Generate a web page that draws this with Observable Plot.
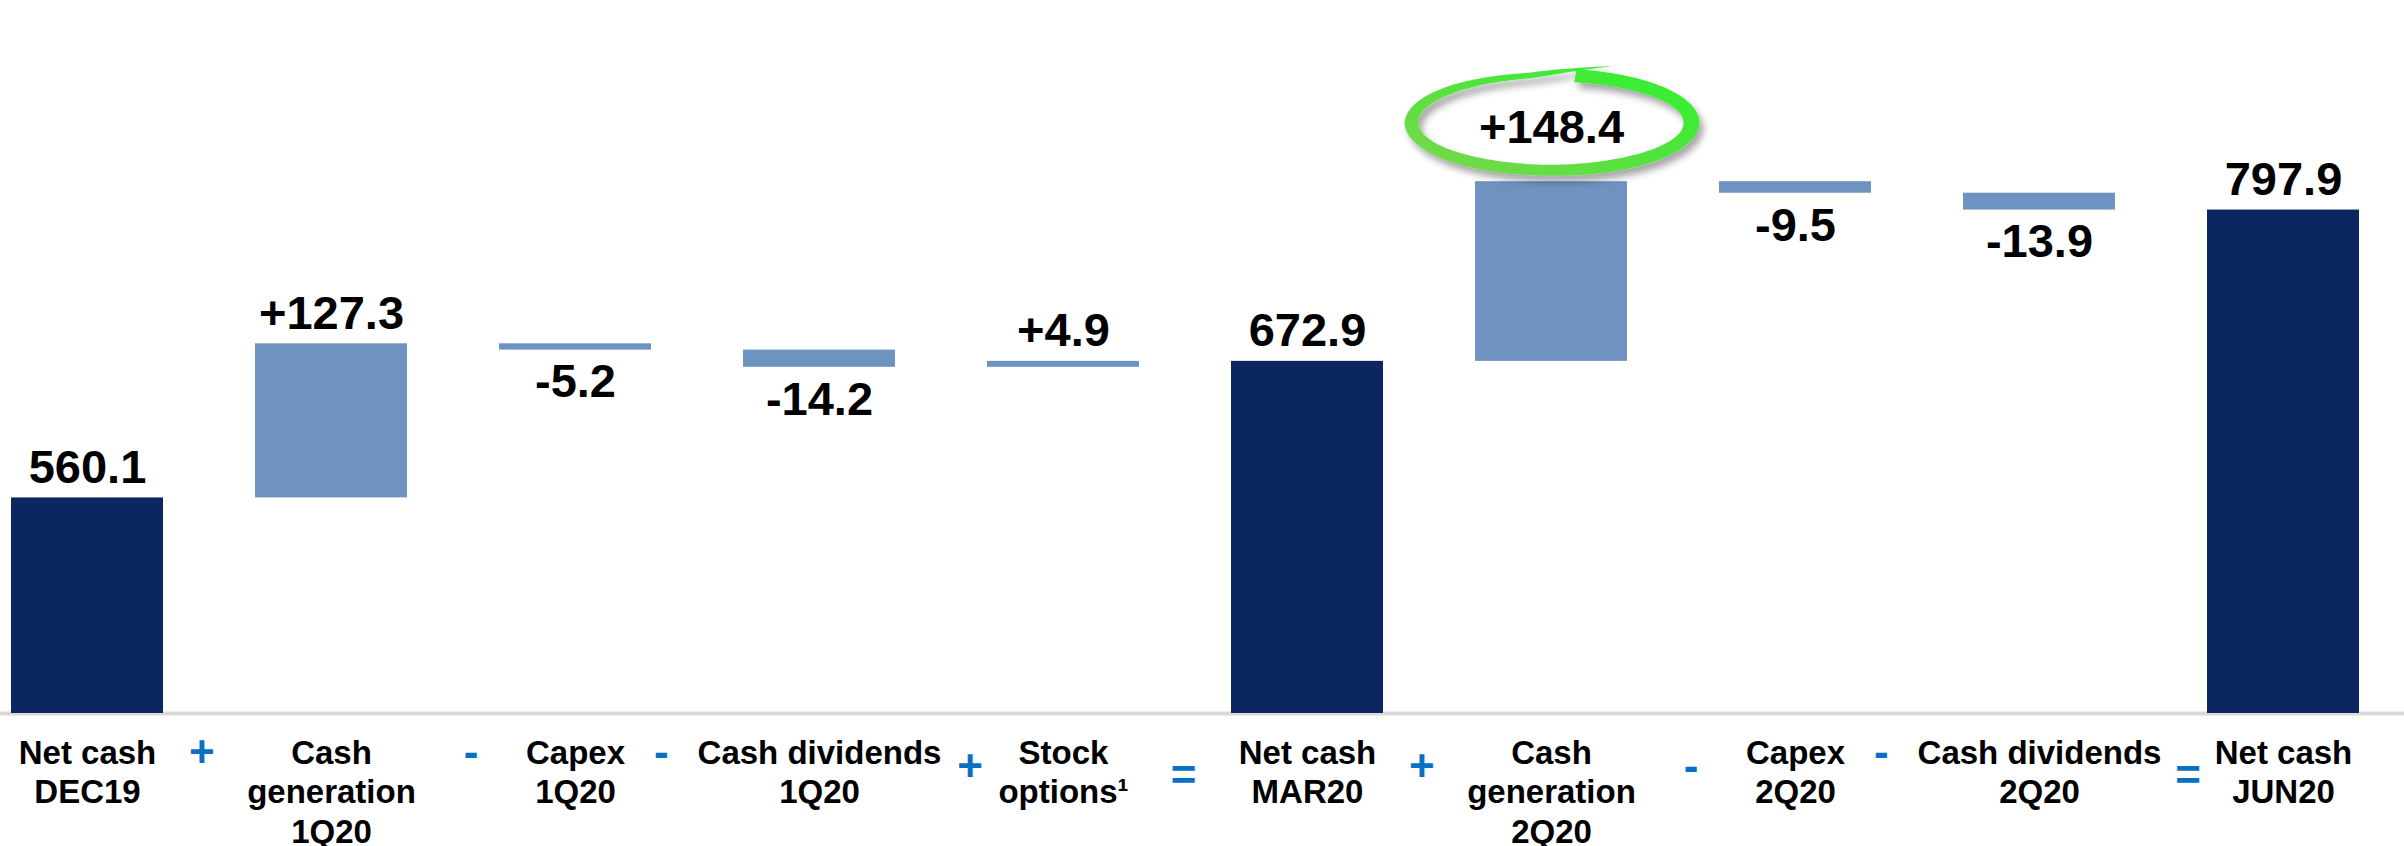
<!DOCTYPE html>
<html>
<head>
<meta charset="utf-8">
<script src="https://cdn.jsdelivr.net/npm/d3@7"></script>
<script src="https://cdn.jsdelivr.net/npm/@observablehq/plot@0.6"></script>
<style>
  html, body { margin: 0; padding: 0; background: #ffffff; }
  #chart svg { display: block; }
</style>
</head>
<body>
<div id="chart"></div>
<script>
// ---------------- data ----------------
const categories = [
  "Net cash\nDEC19",
  "Cash\ngeneration\n1Q20",
  "Capex\n1Q20",
  "Cash dividends\n1Q20",
  "Stock\noptions¹",
  "Net cash\nMAR20",
  "Cash\ngeneration\n2Q20",
  "Capex\n2Q20",
  "Cash dividends\n2Q20",
  "Net cash\nJUN20"
];
const values = [560.1, 127.3, -5.2, -14.2, 4.9, 672.9, 148.4, -9.5, -13.9, 797.9];
const kinds = ["total", "delta", "delta", "delta", "delta", "total", "delta", "delta", "delta", "total"];
const valueLabels = ["560.1", "+127.3", "-5.2", "-14.2", "+4.9", "672.9", "+148.4", "-9.5", "-13.9", "797.9"];
const operators = ["+", "-", "-", "+", "=", "+", "-", "-", "="];
const highlighted = "Cash\ngeneration\n2Q20";

// ---------------- layout ----------------
const W = 2404, H = 846;
const yDomain = [382, 971];
const padInner = 0.377, padOuter = 0.1127, bandAlign = 0.2;
const FONT = "'Liberation Sans', Arial, Helvetica, sans-serif";
const AXIS_FS = 33, VALUE_FS = 47, OP_FS = 44;
const darkBlue = "#0b2660", lightBlue = "#6e93c0", opBlue = "#0a70c4";

// same band geometry as the plot's x scale, used to set operators between label texts
const band = d3.scaleBand().domain(categories).range([0, W])
  .paddingInner(padInner).paddingOuter(padOuter).align(bandAlign);
const ctx = document.createElement("canvas").getContext("2d");
ctx.font = `bold ${AXIS_FS}px 'Liberation Sans', Arial, sans-serif`;
const labelWidth = c => d3.max(c.split("\n"), s => ctx.measureText(s).width);
const center = c => band(c) + band.bandwidth() / 2;

// waterfall table
let running = 0;
const rows = categories.map((cat, i) => {
  const v = values[i];
  let a, b;
  if (kinds[i] === "total") { a = yDomain[0]; b = v; running = v; }
  else { a = running; b = running + v; running = b; }
  return { cat, kind: kinds[i], value: v, label: valueLabels[i], lo: Math.min(a, b), hi: Math.max(a, b) };
});
const above = rows.filter(d => (d.kind === "total" || d.value > 0) && d.cat !== highlighted);
const below = rows.filter(d => d.kind === "delta" && d.value < 0);
const hl = rows.filter(d => d.cat === highlighted);

const opRowDy = i => [0, 1, 2, 7].includes(i) ? 39 : (operators[i] === "=" ? 62 : 53);
const opMarks = operators.map((op, i) => {
  const left = categories[i], right = categories[i + 1];
  const gapMid = ((center(left) + labelWidth(left) / 2) + (center(right) - labelWidth(right) / 2)) / 2;
  return Plot.text([{ op, cat: left }], {
    x: "cat", text: "op", frameAnchor: "bottom", lineAnchor: "middle",
    fontFamily: FONT, fontWeight: "bold", fontSize: OP_FS, fill: opBlue,
    dx: gapMid - center(left), dy: opRowDy(i)
  });
});

// hand-drawn style open ellipse as a custom dot symbol
const knotsT = [-1.40, 0, Math.PI / 2, Math.PI, 4.2, 4.71, 5.05];
const knotsW = [13, 16, 11, 14, 7, 5, 0.6];
function widthAt(t) {
  for (let k = 0; k < knotsT.length - 1; k++) {
    if (t <= knotsT[k + 1]) {
      const f = (t - knotsT[k]) / (knotsT[k + 1] - knotsT[k]);
      return knotsW[k] + f * (knotsW[k + 1] - knotsW[k]);
    }
  }
  return knotsW[knotsW.length - 1];
}
function scaleAt(t) {
  if (t < 4.5) return 1;
  const f = (t - 4.5) / 0.55;
  return 1 + 0.25 * Math.pow(Math.min(1, f), 1.6);
}
const swoosh = {
  draw(context, size) {
    const R = Math.sqrt(size / Math.PI);
    const rx = R, ry = R * 0.34;
    const t0 = -1.40, t1 = 5.05, N = 180;
    const outer = [], inner = [];
    for (let j = 0; j <= N; j++) {
      const t = t0 + (t1 - t0) * j / N;
      const s = scaleAt(t), w = widthAt(t) / 2;
      const c = Math.cos(t), sn = Math.sin(t);
      outer.push([c * (rx * s + w), sn * (ry * s + w)]);
      inner.push([c * (rx * s - w), sn * (ry * s - w)]);
    }
    context.moveTo(outer[0][0], outer[0][1]);
    for (let j = 1; j < outer.length; j++) context.lineTo(outer[j][0], outer[j][1]);
    for (let j = inner.length - 1; j >= 0; j--) context.lineTo(inner[j][0], inner[j][1]);
    context.closePath();
  }
};

const textBase = { fontFamily: FONT, fontWeight: "bold", fill: "#000000" };

const chart = Plot.plot({
  width: W,
  height: H,
  marginTop: 0,
  marginBottom: 133,
  marginLeft: 0,
  marginRight: 0,
  style: { fontFamily: FONT, fontWeight: "bold", background: "#ffffff", overflow: "visible" },
  x: { domain: categories, paddingInner: padInner, paddingOuter: padOuter, align: bandAlign, axis: null },
  y: { domain: yDomain, axis: null },
  marks: [
    Plot.ruleY([yDomain[0]], { stroke: "#d9d9d9", strokeWidth: 4 }),
    Plot.barY(rows, {
      x: "cat", y1: "lo", y2: "hi",
      fill: d => d.kind === "total" ? darkBlue : lightBlue
    }),
    Plot.text(above, { ...textBase, x: "cat", y: "hi", text: "label", fontSize: VALUE_FS, lineAnchor: "bottom", dy: -15 }),
    Plot.text(below, { ...textBase, x: "cat", y: "lo", text: "label", fontSize: VALUE_FS, lineAnchor: "top", dy: 14 }),
    Plot.text(hl, { ...textBase, x: "cat", y: "hi", text: "label", fontSize: VALUE_FS, lineAnchor: "bottom", dy: -39 }),
    Plot.dot(hl, { x: "cat", y: "hi", dy: -59, r: 140, symbol: swoosh, fill: "url(#hlgrad)", stroke: "none" }),
    Plot.axisX({ ...textBase, tickSize: 0, tickPadding: 22, fontSize: AXIS_FS, lineHeight: 1.2, label: null }),
    ...opMarks
  ]
});

// gradient + soft shadow for the highlight swoosh
const svg = d3.select(chart);
const defs = svg.insert("defs", ":first-child");
const grad = defs.append("linearGradient")
  .attr("id", "hlgrad").attr("x1", 0).attr("y1", 1).attr("x2", 1).attr("y2", 0);
grad.append("stop").attr("offset", "0%").attr("stop-color", "#7cd64e");
grad.append("stop").attr("offset", "55%").attr("stop-color", "#4fe43c");
grad.append("stop").attr("offset", "100%").attr("stop-color", "#2ef22e");
const filt = defs.append("filter").attr("id", "hlshadow")
  .attr("x", "-20%").attr("y", "-40%").attr("width", "140%").attr("height", "180%");
filt.append("feDropShadow").attr("dx", 4).attr("dy", 6).attr("stdDeviation", 3.5)
  .attr("flood-color", "#000").attr("flood-opacity", 0.35);
svg.selectAll('g[aria-label="dot"]').attr("filter", "url(#hlshadow)");

document.getElementById("chart").appendChild(chart);
</script>
</body>
</html>
